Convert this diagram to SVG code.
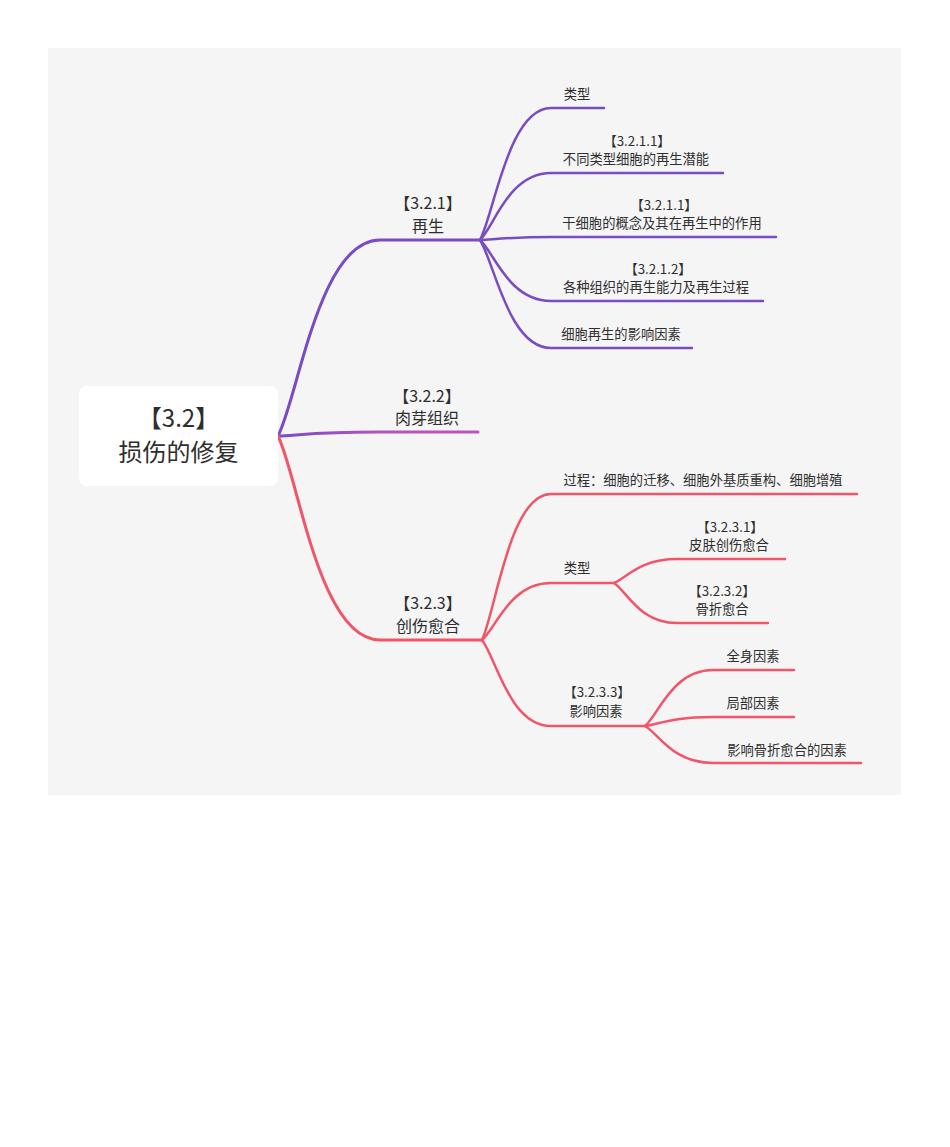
<svg xmlns="http://www.w3.org/2000/svg" width="950" height="1147" viewBox="0 0 950 1147">
<style>
text{font-family:"Noto Sans CJK SC","Microsoft YaHei",sans-serif;fill:#2e2e2e;text-anchor:middle}
.root{font-size:24px}
.main{font-size:16px}
.sub{font-size:13.3px}
.p{stroke:#7a4cc4;fill:none;stroke-linecap:round}
.r{stroke:#f0566a;fill:none;stroke-linecap:round}
.m{stroke:url(#gm);fill:none;stroke-linecap:round}
.w3{stroke-width:3}
.w2{stroke-width:2.5}
</style>
<defs>
<linearGradient id="gm" gradientUnits="userSpaceOnUse" x1="278" y1="0" x2="478" y2="0">
<stop offset="0" stop-color="#7a4cc4"/>
<stop offset="0.5" stop-color="#b452c0"/>
<stop offset="1" stop-color="#bd53bf"/>
</linearGradient>
</defs>
<rect x="48" y="48" width="853" height="747" fill="#f5f5f5"/>
<g id="connectors">
<path class="p w3" d="M278 436 C298.4 396.8 318.8 240 380 240 L480 240"/>
<path class="m w3" d="M278 436 C298 435.2 318 432 378 432 L478 432"/>
<path class="r w3" d="M278 436 C298.4 476.8 318.8 640 380 640 L482 640"/>
<path class="p w2" d="M480 240 C494.2 213.6 508.4 108 551 108 L604 108"/>
<path class="p w2" d="M480 240 C494.2 226.6 508.4 173 551 173 L723 173"/>
<path class="p w2" d="M480 240 C494.2 239.4 508.4 237 551 237 L776 237"/>
<path class="p w2" d="M480 240 C494.2 252.2 508.4 301 551 301 L763 301"/>
<path class="p w2" d="M480 240 C494.2 261.6 508.4 348 551 348 L692 348"/>
<path class="r w2" d="M482 640 C495.8 610.8 509.6 494 551 494 L857 494"/>
<path class="r w2" d="M482 640 C495.8 628.6 509.6 583 551 583 L614 583"/>
<path class="r w2" d="M482 640 C495.8 657.2 509.6 726 551 726 L645 726"/>
<path class="r w2" d="M614 583 C626.6 578.2 639.2 559 677 559 L785 559"/>
<path class="r w2" d="M614 583 C626.6 591 639.2 623 677 623 L768 623"/>
<path class="r w2" d="M645 726 C658.6 714.8 672.2 670 713 670 L794 670"/>
<path class="r w2" d="M645 726 C658.6 724.2 672.2 717 713 717 L794 717"/>
<path class="r w2" d="M645 726 C658.6 733.4 672.2 763 713 763 L861 763"/>
</g>
<g id="root">
<rect x="79" y="386" width="199" height="100" rx="8" fill="#ffffff"/>
<text class="root" x="178.5" y="427">【3.2】</text>
<text class="root" x="178.5" y="461">损伤的修复</text>
</g>
<g id="n321">
<text class="main" x="428" y="209">【3.2.1】</text>
<text class="main" x="428" y="232">再生</text>
</g>
<g id="n322">
<text class="main" x="427" y="402">【3.2.2】</text>
<text class="main" x="427" y="424">肉芽组织</text>
</g>
<g id="n323">
<text class="main" x="428" y="609">【3.2.3】</text>
<text class="main" x="428" y="632">创伤愈合</text>
</g>
<g id="n3211a">
<text class="sub" x="577" y="99">类型</text>
</g>
<g id="n3211">
<text class="sub" x="637" y="146">【3.2.1.1】</text>
<text class="sub" x="636" y="164">不同类型细胞的再生潜能</text>
</g>
<g id="n3211b">
<text class="sub" x="664" y="210">【3.2.1.1】</text>
<text class="sub" x="662" y="228">干细胞的概念及其在再生中的作用</text>
</g>
<g id="n3212">
<text class="sub" x="658" y="274">【3.2.1.2】</text>
<text class="sub" x="656" y="292">各种组织的再生能力及再生过程</text>
</g>
<g id="n3213">
<text class="sub" x="621" y="339">细胞再生的影响因素</text>
</g>
<g id="n323a">
<text class="sub" x="703" y="485">过程：细胞的迁移、细胞外基质重构、细胞增殖</text>
</g>
<g id="n323b">
<text class="sub" x="577" y="573">类型</text>
</g>
<g id="n3231">
<text class="sub" x="730" y="532">【3.2.3.1】</text>
<text class="sub" x="729" y="550">皮肤创伤愈合</text>
</g>
<g id="n3232">
<text class="sub" x="722" y="596">【3.2.3.2】</text>
<text class="sub" x="722" y="614">骨折愈合</text>
</g>
<g id="n3233">
<text class="sub" x="597" y="697">【3.2.3.3】</text>
<text class="sub" x="596" y="716">影响因素</text>
</g>
<g id="n3233a">
<text class="sub" x="753" y="661">全身因素</text>
</g>
<g id="n3233b">
<text class="sub" x="753" y="708">局部因素</text>
</g>
<g id="n3233c">
<text class="sub" x="787" y="755">影响骨折愈合的因素</text>
</g>
</svg>
